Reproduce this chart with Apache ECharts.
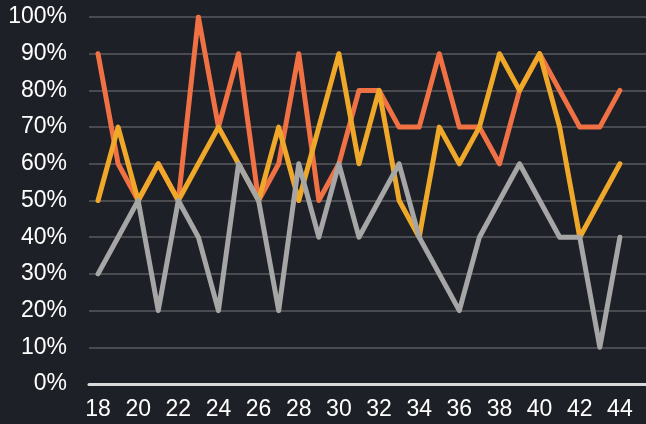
<!DOCTYPE html>
<html>
<head>
<meta charset="utf-8">
<script src="https://cdn.jsdelivr.net/npm/echarts@6/dist/echarts.min.js"></script>
<style>
html, body { margin: 0; padding: 0; background: #1d2027; }
#chart { width: 646px; height: 424px; }
</style>
</head>
<body>
<div id="chart"></div>
<script>
// x categories (weeks) and the three series, in percent
var weeks = [18, 19, 20, 21, 22, 23, 24, 25, 26, 27, 28, 29, 30, 31, 32, 33, 34, 35, 36, 37, 38, 39, 40, 41, 42, 43, 44];
var orangeVals = [90, 60, 50, 60, 50, 100, 70, 90, 50, 60, 90, 50, 60, 80, 80, 70, 70, 90, 70, 70, 60, 80, 90, 80, 70, 70, 80];
var yellowVals = [50, 70, 50, 60, 50, 60, 70, 60, 50, 70, 50, 70, 90, 60, 80, 50, 40, 70, 60, 70, 90, 80, 90, 70, 40, 50, 60];
var grayVals = [30, 40, 50, 20, 50, 40, 20, 60, 50, 20, 60, 40, 60, 40, 50, 60, 40, 30, 20, 40, 50, 60, 50, 40, 40, 10, 40];
var xTicks = [18, 20, 22, 24, 26, 28, 30, 32, 34, 36, 38, 40, 42, 44];
var yTicks = [0, 10, 20, 30, 40, 50, 60, 70, 80, 90, 100];

function pairs(vals) {
  var out = [];
  for (var i = 0; i < weeks.length; i++) {
    out.push([weeks[i], vals[i]]);
  }
  return out;
}

function lineSeries(name, vals, color) {
  return {
    name: name,
    type: 'line',
    data: pairs(vals),
    symbol: 'none',
    animation: false,
    lineStyle: { color: color, width: 5, join: 'round', cap: 'round' }
  };
}

var chart = echarts.init(document.getElementById('chart'));
chart.setOption({
  backgroundColor: '#1d2027',
  animation: false,
  grid: { left: 89, right: 0, top: 17, bottom: 40 },
  xAxis: {
    type: 'value',
    min: 17.55,
    max: 45.3,
    axisLine: { show: true, onZero: false, lineStyle: { color: '#d9d9d9', width: 3 } },
    axisTick: { show: false },
    splitLine: { show: false },
    axisLabel: {
      customValues: xTicks,
      color: '#ffffff',
      fontSize: 23,
      fontFamily: 'Liberation Sans, Arial, sans-serif',
      margin: 14
    }
  },
  yAxis: {
    type: 'value',
    min: 0,
    max: 100,
    interval: 10,
    axisLine: { show: false },
    axisTick: { show: false },
    splitLine: { lineStyle: { color: '#494b50', width: 2 } },
    axisLabel: {
      customValues: yTicks,
      color: '#ffffff',
      fontSize: 23,
      fontFamily: 'Liberation Sans, Arial, sans-serif',
      margin: 22,
      formatter: '{value}%'
    }
  },
  series: [
    lineSeries('A', orangeVals, '#ef7144'),
    lineSeries('B', yellowVals, '#f0a82a'),
    lineSeries('C', grayVals, '#a6a6a6')
  ]
});
</script>
</body>
</html>
